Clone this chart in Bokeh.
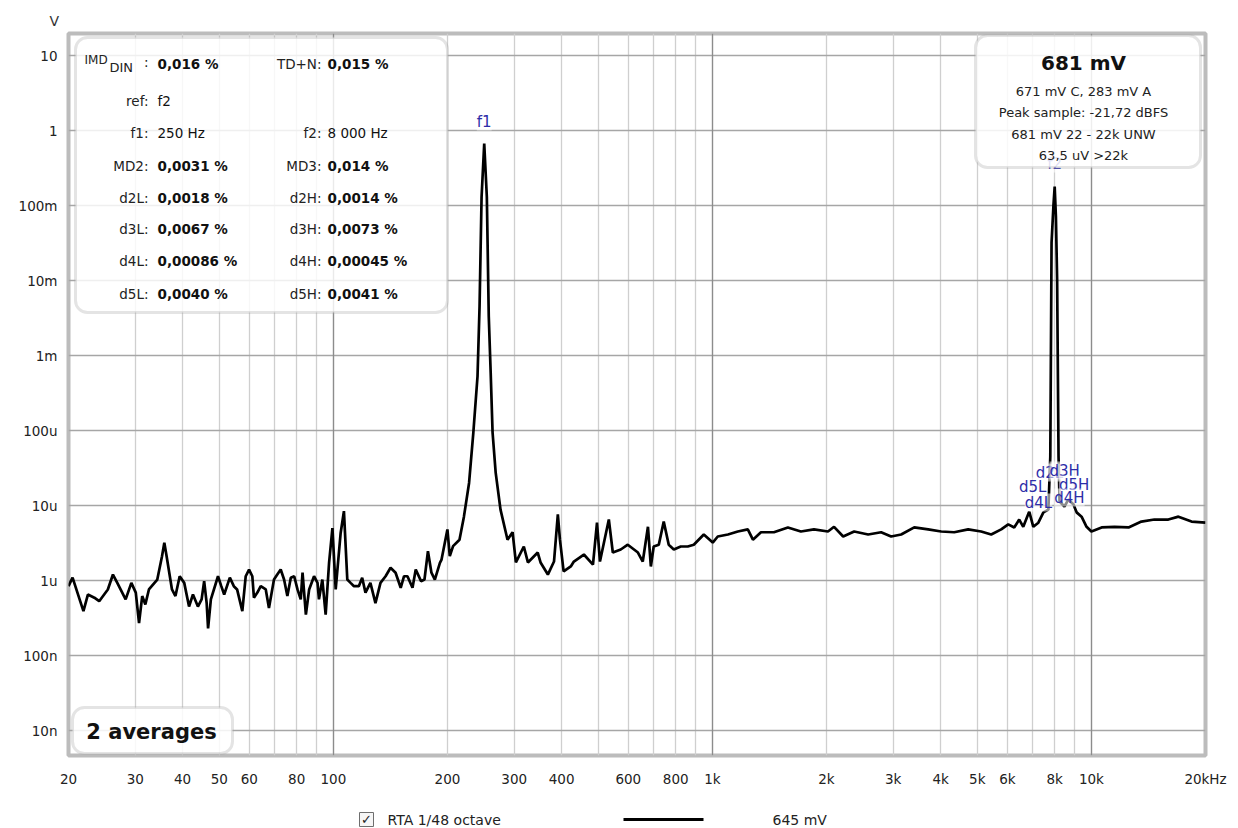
from bokeh.plotting import figure
from bokeh.models import Range1d, FixedTicker, Grid, BoxAnnotation, Label, CustomJSTickFormatter
from bokeh.layouts import column
from bokeh.embed import file_html
from bokeh.resources import INLINE
from bokeh.core.properties import value

# ---------------- data ----------------
freq_hz = [20.0, 20.5, 21.9, 22.5, 23.4, 24.1, 25.4, 26.2, 26.9, 28.3, 29.3, 30.1, 30.7, 31.3, 31.9,
           32.6, 34.3, 35.3, 35.8, 36.3, 37.5, 38.3, 39.3, 40.4, 41.6, 42.6, 43.9, 44.9, 45.6, 46.3,
           46.7, 47.5, 49.6, 50.6, 51.5, 53.3, 54.6, 55.7, 57.5, 58.7, 59.9, 61.1, 61.7, 63.0, 64.3,
           66.3, 67.6, 69.7, 71.1, 72.6, 74.1, 75.6, 77.2, 78.8, 80.4, 82.0, 82.9, 84.6, 86.3, 88.9,
           90.8, 91.6, 93.5, 95.4, 97.4, 99.4, 101.4, 104.5, 106.6, 108.8, 111.0, 113.3, 116.7, 119.1,
           121.5, 125.2, 129.1, 133.1, 137.3, 141.5, 145.9, 150.5, 153.6, 156.8, 161.7, 164.9, 170.3,
           173.9, 177.6, 181.4, 185.2, 191.0, 192.9, 199.9, 202.8, 206.9, 215.1, 221, 228, 234, 240,
           243, 246, 250, 254, 257, 260, 263, 268, 276, 288, 297, 303, 318, 326, 346, 352, 368, 382,
           391, 396, 405, 423, 431, 458, 484, 496, 505, 533, 546, 573, 598, 636, 655, 676, 688, 700,
           722, 744, 767, 791, 825, 861, 893, 949, 1002, 1033, 1099, 1167, 1240, 1279, 1343, 1453,
           1582, 1712, 1853, 2018, 2094, 2213, 2366, 2576, 2787, 2962, 3148, 3408, 3709, 4015, 4345,
           4730, 5118, 5440, 5781, 6034, 6257, 6450, 6610, 6855, 7026, 7245, 7470, 7700, 7790, 7850,
           7940, 8000, 8060, 8120, 8190, 8240, 8490, 8690, 8970, 9140, 9420, 9710, 10000, 10640,
           11510, 12530, 13550, 14660, 15960, 16970, 18370, 20000]
level_uv = [0.84, 1.09, 0.39, 0.65, 0.59, 0.53, 0.76, 1.20, 0.93, 0.56, 0.93, 0.69, 0.27, 0.62, 0.48,
            0.76, 1.03, 2.11, 3.18, 2.11, 0.76, 0.62, 1.14, 0.93, 0.45, 0.65, 0.45, 0.56, 0.98, 0.50,
            0.23, 0.56, 1.14, 0.84, 0.65, 1.09, 0.84, 0.76, 0.39, 1.14, 1.40, 1.14, 0.59, 0.69, 0.84,
            0.76, 0.43, 1.03, 1.20, 1.40, 1.03, 0.62, 1.09, 1.14, 0.76, 0.56, 1.27, 0.35, 0.76, 1.14,
            0.93, 0.56, 1.03, 0.35, 1.72, 5.0, 0.76, 4.3, 8.4, 1.03, 0.93, 0.84, 0.84, 1.09,
            0.69, 0.93, 0.50, 0.93, 1.14, 1.48, 1.27, 0.80, 1.14, 1.14, 0.80, 1.40, 0.98,
            1.03, 2.46, 1.27, 1.03, 1.72, 1.90, 4.8, 2.11, 2.87, 3.5, 7.1, 20, 94, 525,
            4500, 130000, 670000, 130000, 3300, 590, 94, 27.5, 8.8, 3.5, 4.4, 1.74, 2.84, 1.74, 2.36, 1.74, 1.2, 1.79,
            7.6, 3.5, 1.32, 1.54, 1.79, 2.22, 1.63, 5.9, 1.79, 6.5, 2.36, 2.59, 3.0, 2.36, 1.79, 5.2, 1.54, 2.84,
            3.0, 6.1, 3.0, 2.59, 2.84, 2.84, 3.0, 4.1, 3.2, 3.86, 4.1, 4.5, 4.8, 3.5, 4.4, 4.4,
            5.1, 4.5, 4.8, 4.5, 5.2, 3.86, 4.5, 4.1, 4.4, 3.86, 4.1, 5.1, 4.8, 4.5, 4.4,
            4.8, 4.5, 4.1, 4.8, 5.6, 5.1, 6.5, 5.2, 8.3, 5.2, 5.9, 8.1, 8.8, 45, 32000,
            100000, 179000, 71000, 10300, 45, 11.3, 9.7, 12, 10.3, 8.1, 7.1, 5.2, 4.5, 5.1,
            5.2, 5.1, 6.1, 6.5, 6.5, 7.1, 6.1, 5.9]

x_ticks = [20, 30, 40, 50, 60, 70, 80, 90, 100, 200, 300, 400, 500, 600, 700, 800, 900,
           1000, 2000, 3000, 4000, 5000, 6000, 7000, 8000, 9000, 10000, 20000]
x_tick_labels = ["20", "30", "40", "50", "60", "", "80", "", "100", "200", "300", "400", "", "600", "",
                 "800", "", "1k", "2k", "3k", "4k", "5k", "6k", "", "8k", "", "10k", "20kHz"]
x_major_ticks = [100, 1000, 10000]
y_ticks = [1e-8, 1e-7, 1e-6, 1e-5, 1e-4, 1e-3, 1e-2, 1e-1, 1, 10]
y_tick_labels = ["10n", "100n", "1u", "10u", "100u", "1m", "10m", "100m", "1", "10"]
y_unit = "V"

peak_names = ["f1", "f2", "d2L", "d3H", "d5H", "d4H", "d5L", "d4L"]
peak_freqs = [250, 8000, 7750, 8500, 9000, 8750, 7000, 7250]

left_keys = ["", "ref:", "f1:", "MD2:", "d2L:", "d3L:", "d4L:", "d5L:"]
left_vals = ["0,016 %", "f2", "250 Hz", "0,0031 %", "0,0018 %", "0,0067 %", "0,00086 %", "0,0040 %"]
left_bold = [True, False, False, True, True, True, True, True]
right_keys = ["TD+N:", "", "f2:", "MD3:", "d2H:", "d3H:", "d4H:", "d5H:"]
right_vals = ["0,015 %", "", "8 000 Hz", "0,014 %", "0,0014 %", "0,0073 %", "0,00045 %", "0,0041 %"]
right_bold = [True, False, False, True, True, True, True, True]

level_title = "681 mV"
level_lines = ["671 mV C, 283 mV A", "Peak sample: -21,72 dBFS", "681 mV 22 - 22k UNW", "63,5 uV >22k"]
averages_text = "2 averages"
legend_name = "RTA 1/48 octave"
legend_value = "645 mV"

level_v = [u * 1e-6 for u in level_uv]

# ---------------- layout geometry (page pixels) ----------------
FONT = "DejaVu Sans"
W, H_MAIN, H_LEG = 1238, 800, 27
FL, FR, FT, FB = 68, 1205, 33, 755
PX_DEC_X = (FR - FL) / 3.0
PX_DEC_Y = 75.0
Y10_PX = 55.0


def X(px):
    return 20 * 10 ** ((px - FL) / PX_DEC_X)


def Y(py):
    return 10 * 10 ** ((Y10_PX - py) / PX_DEC_Y)


p = figure(width=W, height=H_MAIN, x_axis_type="log", y_axis_type="log",
           x_range=Range1d(20, 20000), y_range=Range1d(Y(FB), Y(FT)),
           toolbar_location=None, output_backend="svg",
           min_border_left=FL, min_border_right=W - FR,
           min_border_top=FT, min_border_bottom=H_MAIN - FB)
p.background_fill_color = "white"
p.border_fill_color = "white"
p.outline_line_color = "#bcbcbc"
p.outline_line_width = 4

# unit "V" above the y-axis labels
p.title.text = y_unit
p.title.align = "left"
p.title.offset = -19
p.title.standoff = 9
p.title.text_font = FONT
p.title.text_font_size = "14px"
p.title.text_font_style = "normal"
p.title.text_color = "#333333"

p.xaxis.ticker = FixedTicker(ticks=x_ticks, minor_ticks=[])
p.yaxis.ticker = FixedTicker(ticks=y_ticks, minor_ticks=[])
p.xaxis.formatter = CustomJSTickFormatter(args=dict(t=x_ticks, l=x_tick_labels), code="""
for (let i = 0; i < t.length; i++) { if (Math.abs(t[i] - tick) / t[i] < 1e-6) return l[i]; }
return "";""")
p.yaxis.formatter = CustomJSTickFormatter(args=dict(t=y_ticks, l=y_tick_labels), code="""
for (let i = 0; i < t.length; i++) { if (Math.abs(t[i] - tick) / t[i] < 1e-6) return l[i]; }
return "";""")
for ax in (p.xaxis, p.yaxis):
    ax.axis_line_color = None
    ax.major_tick_line_color = None
    ax.minor_tick_line_color = None
    ax.major_label_text_font = FONT
    ax.major_label_text_font_size = "13.5px"
    ax.major_label_text_color = "#222222"
p.xaxis.major_label_standoff = 9
p.yaxis.major_label_standoff = 5

p.xgrid.grid_line_color = "#cfcfcf"
p.xgrid.grid_line_width = 1.3
p.ygrid.grid_line_color = "#a6a6a6"
p.ygrid.grid_line_width = 1.3
p.add_layout(Grid(dimension=0, ticker=FixedTicker(ticks=x_major_ticks, minor_ticks=[]),
                  grid_line_color="#8c8c8c", grid_line_width=1.3))

p.line(freq_hz, level_v, line_color="black", line_width=2.7)

# peak labels
BLUE = "#2d2da8"
peak_py = {"f1": 121, "f2": 163, "d2L": 472, "d3H": 470, "d5H": 484, "d4H": 497, "d5L": 486, "d4L": 502}
for name, f in zip(peak_names, peak_freqs):
    p.add_layout(Label(x=f, y=Y(peak_py[name]), text=name, text_font=FONT, text_font_size="15px",
                       text_color=BLUE, text_align="center", text_baseline="middle",
                       background_fill_color="white", background_fill_alpha=0.55))

# info box (left)
p.add_layout(BoxAnnotation(left=X(75), right=X(447), top=Y(37), bottom=Y(312),
                           fill_color="white", fill_alpha=0.82, line_color="#a6a6a6",
                           line_width=3, border_radius=12))
row_py = [63, 100, 132, 165, 197, 228, 260, 293]
for i, py in enumerate(row_py):
    if left_keys[i]:
        p.add_layout(Label(x=X(148), y=Y(py), text=left_keys[i], text_font=FONT, text_font_size="13.5px",
                           text_color="#222222", text_align="right", text_baseline="middle"))
    if left_vals[i]:
        p.add_layout(Label(x=X(157), y=Y(py), text=left_vals[i], text_font=FONT, text_font_size="13.5px",
                           text_font_style="bold" if left_bold[i] else "normal",
                           text_color="#111111", text_align="left", text_baseline="middle"))
    if right_keys[i]:
        p.add_layout(Label(x=X(321), y=Y(py), text=right_keys[i], text_font=FONT, text_font_size="13.5px",
                           text_color="#222222", text_align="right", text_baseline="middle"))
    if right_vals[i]:
        p.add_layout(Label(x=X(327), y=Y(py), text=right_vals[i], text_font=FONT, text_font_size="13.5px",
                           text_font_style="bold" if right_bold[i] else "normal",
                           text_color="#111111", text_align="left", text_baseline="middle"))
# IMD with DIN subscript
p.add_layout(Label(x=X(84), y=Y(59), text="IMD", text_font=FONT, text_font_size="12px",
                   text_color="#222222", text_align="left", text_baseline="middle"))
p.add_layout(Label(x=X(109), y=Y(67), text="DIN", text_font=FONT, text_font_size="13px",
                   text_color="#222222", text_align="left", text_baseline="middle"))
p.add_layout(Label(x=X(148), y=Y(61), text=":", text_font=FONT, text_font_size="13.5px",
                   text_color="#222222", text_align="right", text_baseline="middle"))

# level box (right)
p.add_layout(BoxAnnotation(left=X(975), right=X(1200), top=Y(35), bottom=Y(167),
                           fill_color="white", fill_alpha=0.85, line_color="#a6a6a6",
                           line_width=3, border_radius=12))
p.add_layout(Label(x=X(1083), y=Y(62), text=level_title, text_font=FONT, text_font_size="20px",
                   text_font_style="bold", text_color="#111111", text_align="center", text_baseline="middle"))
for txt, py in zip(level_lines, [91, 112, 134, 155]):
    p.add_layout(Label(x=X(1083), y=Y(py), text=txt, text_font=FONT, text_font_size="13px",
                       text_color="#222222", text_align="center", text_baseline="middle"))

# averages box
p.add_layout(BoxAnnotation(left=X(72), right=X(232), top=Y(707), bottom=Y(753),
                           fill_color="white", fill_alpha=0.85, line_color="#a6a6a6",
                           line_width=3, border_radius=12))
p.add_layout(Label(x=X(151), y=Y(731), text=averages_text, text_font=FONT, text_font_size="21px",
                   text_font_style="bold", text_color="#111111", text_align="center", text_baseline="middle"))

# ---------------- legend strip (data units = page pixels) ----------------
q = figure(width=W, height=H_LEG, x_range=Range1d(FL, FR), y_range=Range1d(0, H_LEG),
           toolbar_location=None, output_backend="svg",
           min_border_left=FL, min_border_right=W - FR, min_border_top=0, min_border_bottom=0,
           x_axis_location=None, y_axis_location=None)
q.outline_line_color = None
q.grid.visible = False
LY = H_MAIN + H_LEG - 819
q.rect(x=[366], y=[LY], width=14, height=14, fill_color="#f6f6f6", line_color="#6e6e6e", line_width=1)
q.text(x=[366], y=[LY], text=["\u2713"], text_font=value(FONT), text_font_size="13px",
       text_font_style="bold", text_color="#222222", text_align="center", text_baseline="middle")
q.text(x=[387], y=[LY], text=[legend_name], text_font=value(FONT), text_font_size="14px",
       text_color="#222222", text_align="left", text_baseline="middle")
q.line(x=[623, 703], y=[LY, LY], line_color="black", line_width=3)
q.text(x=[772], y=[LY], text=[legend_value], text_font=value(FONT), text_font_size="14px",
       text_color="#222222", text_align="left", text_baseline="middle")

open("out.html", "w").write(file_html(column(p, q, spacing=0), INLINE))
